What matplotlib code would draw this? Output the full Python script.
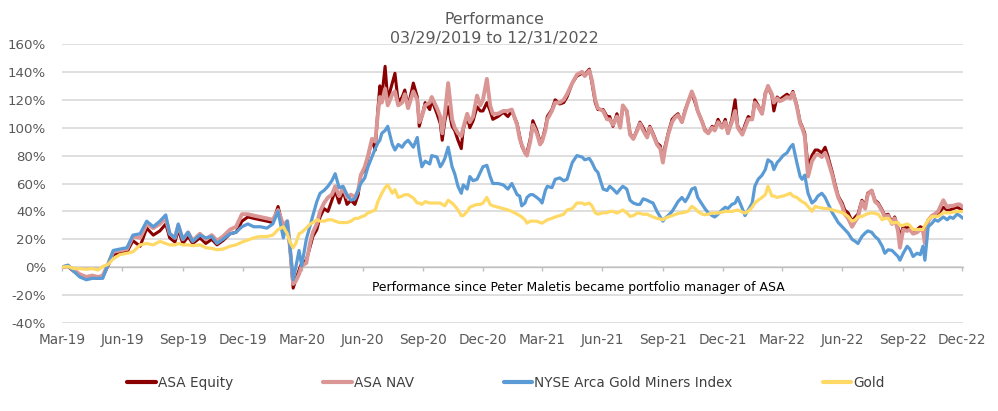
import numpy as np
import pandas as pd
import matplotlib
matplotlib.use("Agg")
import matplotlib.pyplot as plt
import matplotlib.dates as mdates

# ---------------- data ----------------
start_date = "2019-03-29"

day_offsets = [
    0, 9, 18, 27, 37, 46, 55, 62, 70, 78,
    88, 99, 108, 119, 129, 139, 149, 158, 164, 172,
    177, 184, 192, 199, 210, 219, 228, 236, 245, 256,
    265, 274, 283, 292, 302, 312, 321, 329, 337, 343,
    347, 352, 356, 361, 365, 372, 378, 382, 388, 393,
    399, 405, 411, 416, 422, 428, 434, 440, 446, 451,
    455, 461, 466, 472, 477, 481, 484, 487, 492, 496,
    503, 507, 512, 518, 522, 527, 535, 541, 544, 548,
    553, 560, 563, 571, 576, 579, 583, 588, 594, 598,
    603, 608, 611, 617, 621, 626, 632, 637, 641, 647,
    652, 656, 664, 672, 679, 685, 693, 697, 700, 705,
    708, 713, 717, 723, 728, 731, 736, 739, 746, 751,
    758, 764, 769, 777, 784, 792, 796, 803, 807, 812,
    816, 824, 830, 834, 839, 845, 850, 854, 860, 865,
    870, 876, 880, 885, 891, 895, 900, 906, 911, 915,
    918, 923, 929, 933, 938, 944, 949, 953, 959, 964,
    968, 975, 979, 984, 990, 994, 999, 1005, 1010, 1014,
    1020, 1025, 1029, 1036, 1040, 1045, 1051, 1055, 1060, 1066,
    1071, 1075, 1081, 1084, 1089, 1093, 1098, 1104, 1109, 1113,
    1119, 1124, 1127, 1131, 1136, 1142, 1147, 1151, 1157, 1162,
    1166, 1173, 1177, 1182, 1188, 1192, 1197, 1203, 1208, 1212,
    1218, 1223, 1227, 1233, 1238, 1243, 1249, 1253, 1258, 1264,
    1268, 1273, 1276, 1281, 1287, 1291, 1296, 1302, 1307, 1311,
    1314, 1319, 1325, 1329, 1334, 1342, 1348, 1352, 1357, 1363,
    1367, 1372,
]

asa_equity = [
    0, 0.5, -3, -6, -8, -7, -8, -7, 1, 9,
    10, 11, 19, 15, 28, 23, 26, 31, 21, 18,
    27, 17, 22, 17, 21, 17, 20, 16, 19, 24,
    25, 33, 36, 35, 34, 33, 32, 43.5, 28, 32,
    15, -15, -9, -2, 3, 5, 15, 22, 27, 36,
    42, 40, 48, 55, 46, 55, 45, 48, 45, 52,
    66, 70, 79, 91, 84, 113, 130, 122, 144, 120,
    132, 139, 118, 122, 127, 115, 132, 122, 101, 108,
    118, 113, 120, 110, 103, 91, 105, 115, 101, 98,
    91, 85, 99, 108, 100, 105, 115, 112, 112, 118,
    112, 106, 108, 111, 108, 112, 103, 94, 87, 82,
    82, 92, 105, 98, 90, 91, 100, 108, 113, 120,
    117, 118, 122, 132, 137, 139, 138, 142, 132, 118,
    113, 113, 108, 108, 101, 110, 101, 115, 112, 96,
    92, 99, 104, 100, 94, 101, 96, 89, 87, 77,
    86, 96, 106, 108, 110, 104, 113, 118, 125, 118,
    112, 104, 99, 96, 101, 99, 106, 100, 106, 96,
    106, 120, 101, 96, 102, 108, 106, 120, 116, 110,
    125, 129, 123, 112, 122, 120, 122, 124, 122, 126,
    116, 104, 101, 96, 72, 80, 84, 84, 82, 86,
    80, 68, 60, 51, 46, 41, 39, 33, 36, 38,
    48, 44, 53, 55, 48, 46, 41, 37, 38, 32,
    36, 28, 22, 29, 28, 29, 25, 27, 29, 28,
    27, 34, 37, 36, 38, 43, 41, 41, 42, 43,
    42, 41,
]

asa_nav = [
    0, 1, -2, -5, -7, -6, -7, -6, 2, 11,
    12, 13, 22, 21, 31, 28, 31, 35, 24, 21,
    30, 20, 25, 19, 24, 20, 23, 19, 22, 27,
    29, 38, 38, 37, 36, 35, 34, 41, 30, 33,
    15, -12, -10, -5, 1, 3, 18, 25, 31, 40,
    46, 50, 52, 58, 51, 57, 50, 52, 50, 55,
    66, 72, 80, 92, 90, 110, 122, 118, 128, 116,
    124, 126, 116, 118, 124, 114, 126, 120, 104, 108,
    116, 118, 122, 114, 108, 96, 110, 132, 106, 100,
    96, 94, 100, 110, 104, 108, 123, 116, 120, 135,
    116, 110, 110, 112, 112, 113, 102, 92, 88, 82,
    80, 90, 102, 96, 88, 90, 98, 106, 112, 118,
    118, 120, 124, 132, 138, 140, 137, 141, 134, 120,
    114, 112, 106, 106, 102, 108, 100, 116, 112, 95,
    92, 98, 103, 98, 93, 100, 95, 88, 85, 75,
    84, 95, 104, 107, 109, 104, 112, 118, 126, 120,
    112, 104, 98, 96, 100, 98, 104, 100, 104, 96,
    104, 112, 100, 95, 100, 106, 106, 118, 115, 110,
    124, 130, 124, 118, 121, 119, 120, 122, 121, 125,
    115, 103, 100, 94, 65, 76, 80, 81, 79, 82,
    77, 66, 58, 50, 44, 38, 35, 29, 33, 36,
    47, 42, 52, 55, 47, 45, 40, 36, 37, 31,
    35, 26, 14, 27, 26, 27, 24, 25, 27, 26,
    17, 33, 37, 38, 40, 48, 43, 44, 44, 45,
    45, 43,
]

gold_miners = [
    0, 1.5, -3, -7, -9, -8, -8, -8, 2, 12,
    13, 14, 23, 24, 33, 29, 33, 37.5, 24, 21,
    31, 20, 25, 18.5, 23, 21, 22, 17, 20, 24,
    25, 29, 31, 29, 29, 28, 31, 40, 21, 33,
    15, -9, 0, 12, 1, 20, 30, 37, 47, 53,
    55, 58, 62, 67, 57, 58, 52, 48, 49, 55,
    60, 64, 72, 79, 85, 89, 91, 96, 98, 101,
    88, 84, 88, 86, 89, 91, 86, 93, 82, 72,
    76, 74, 80, 79, 72, 74, 78, 86, 72, 67,
    58, 53, 59, 56, 65, 62, 63, 68, 72, 73,
    65, 60, 60, 59, 56, 60, 52, 51, 44, 46,
    50, 52, 52, 50, 48, 46, 55, 58, 57, 63,
    64, 62, 63, 75, 80, 79, 77, 78, 75, 70,
    68, 56, 55, 58, 56, 53, 56, 58, 56, 48,
    46, 45, 45, 49, 48, 47, 46, 40, 36, 33,
    35, 37, 40, 43, 47, 50, 47, 50, 56, 57,
    50, 45, 42, 39, 37, 36, 38, 41, 43, 42,
    45, 46, 50, 42, 37, 41, 46, 58, 63, 66,
    70, 77, 75, 70, 75, 77, 80, 82, 86, 88,
    75, 65, 63, 66, 53, 46, 48, 51, 53, 50,
    46, 39, 36, 32, 29, 27, 24.5, 20, 18.5, 17,
    22, 24.5, 26, 25, 22, 20, 15, 10, 12.5, 12,
    10, 7.7, 5, 10, 15, 13, 7.7, 10, 9, 15,
    5, 29, 31.6, 34, 33, 36, 34, 36, 35, 38,
    37, 35,
]

gold = [
    0, 0.5, -1, -1, -1.5, -1, -2, 0.5, 2, 6,
    9, 10, 11, 16, 17, 16, 18.5, 17, 16, 16,
    17, 16, 16, 15.5, 16, 14, 13.5, 12.5, 13, 15,
    16, 18, 19.5, 21, 22, 22, 23, 27, 29, 24,
    18, 14, 17, 24, 25, 28, 31, 32, 34, 33,
    33, 34, 34, 33, 32, 32, 32, 33, 35, 35,
    36, 37, 39, 40, 41, 47, 50, 53, 57, 59,
    53, 55.6, 50, 51, 52, 52, 49.6, 46, 46, 45,
    47, 46, 46, 46, 46, 45, 44, 48, 46, 44,
    41, 37, 37, 40, 43, 44, 45, 45, 46, 50,
    45, 44, 43, 42, 41, 40, 38, 37, 36, 34,
    31.6, 33, 33, 33, 32, 31.6, 33, 34, 35, 36,
    37, 38, 41, 42, 46, 46, 45, 46, 44, 39,
    38, 39, 39, 40, 40, 38.8, 40, 41, 39, 36.4,
    37, 38.8, 38.5, 38, 38, 37, 36, 35, 34.5, 34,
    35, 36, 37, 37.6, 38.5, 39, 39.5, 40, 43.6, 42,
    40, 38, 37.6, 38, 38.8, 38.8, 38.8, 39.5, 40, 40,
    40, 40.5, 41, 39.5, 38.8, 40, 43, 46, 48, 50,
    52, 58, 51, 51, 50, 50.5, 51, 52, 53, 51,
    50, 48, 47, 46, 43.6, 40, 43.6, 43, 42.4, 42,
    42, 41, 40.5, 40, 39, 38, 36.4, 33, 34, 36,
    36.4, 37.5, 38.4, 39, 38.5, 38, 34, 35, 35, 31.6,
    32, 32, 30, 30, 31, 30, 27, 27, 27, 27,
    30, 34, 36.4, 36.4, 36.4, 39, 39, 39, 39.5, 40,
    40, 40,
]

series_labels = ["ASA Equity", "ASA NAV", "NYSE Arca Gold Miners Index", "Gold"]
tick_labels = ["Mar-19", "Jun-19", "Sep-19", "Dec-19", "Mar-20", "Jun-20", "Sep-20",
               "Dec-20", "Mar-21", "Jun-21", "Sep-21", "Dec-21", "Mar-22", "Jun-22",
               "Sep-22", "Dec-22"]
y_ticks = [-40, -20, 0, 20, 40, 60, 80, 100, 120, 140, 160]
title_lines = ["Performance", "03/29/2019 to 12/31/2022"]
note = "Performance since Peter Maletis became portfolio manager of ASA"

# ---------------- figure ----------------
W, H = 998, 411
fig = plt.figure(figsize=(W / 100, H / 100), dpi=100)
ax = fig.add_axes([62 / W, 1 - 323 / H, 901 / W, 279 / H])

start = pd.Timestamp(start_date)
dates = start + pd.to_timedelta(day_offsets, unit="D")
xnum = mdates.date2num(dates.to_pydatetime())
tick_dates = pd.date_range(start_date, periods=len(tick_labels), freq=pd.DateOffset(months=3))
tick_num = mdates.date2num(tick_dates.to_pydatetime())

colors = ["#8B0000", "#DA9694", "#5B9BD5", "#FFD966"]
widths = [2.2, 2.8, 2.3, 2.3]
values = [asa_equity, asa_nav, gold_miners, gold]
handles = []
for vals, c, lw, lab in zip(values, colors, widths, series_labels):
    h, = ax.plot(xnum, vals, color=c, lw=lw, label=lab,
                 solid_joinstyle="round", solid_capstyle="round", zorder=3)
    handles.append(h)

ax.set_xlim(xnum[0], xnum[-1])
ax.set_ylim(-40, 160)
ax.set_yticks(y_ticks)
ax.set_yticklabels([f"{v}%" for v in y_ticks])
ax.yaxis.grid(True, color="#D9D9D9", lw=1.2)
ax.set_axisbelow(True)

for s in ["top", "right", "left"]:
    ax.spines[s].set_visible(False)
ax.spines["bottom"].set_position(("data", 0))
ax.spines["bottom"].set_color("#BFBFBF")
ax.spines["bottom"].set_linewidth(1.0)
ax.set_xticks(tick_num)
ax.tick_params(axis="x", direction="out", length=3, width=1, color="#BFBFBF",
               labelbottom=False)
ax.tick_params(axis="y", length=0, pad=11.5, labelsize=9.6, labelcolor="#595959")

sec = ax.secondary_xaxis("bottom")
sec.set_xticks(tick_num)
sec.set_xticklabels(tick_labels)
sec.tick_params(length=0, pad=7, labelsize=9.8, labelcolor="#595959")
sec.spines["bottom"].set_visible(False)

ax.text(0.573, 0.129, note, transform=ax.transAxes, ha="center", va="center",
        fontsize=8.9, color="#000000")

fig.text(494 / W, 1 - 20 / H, title_lines[0], ha="center", va="center",
         fontsize=11.3, color="#595959")
fig.text(494 / W, 1 - 38 / H, title_lines[1], ha="center", va="center",
         fontsize=11.4, color="#595959")

leg = fig.legend(handles=handles, labels=series_labels, loc="center",
                 bbox_to_anchor=(506 / W, 1 - 383 / H), ncol=4, frameon=False,
                 fontsize=9.8, handlelength=2.1, handletextpad=0.15,
                 columnspacing=6.6, labelcolor="#404040")
for line in leg.get_lines():
    line.set_linewidth(3)

fig.savefig("out.png", dpi=100)
